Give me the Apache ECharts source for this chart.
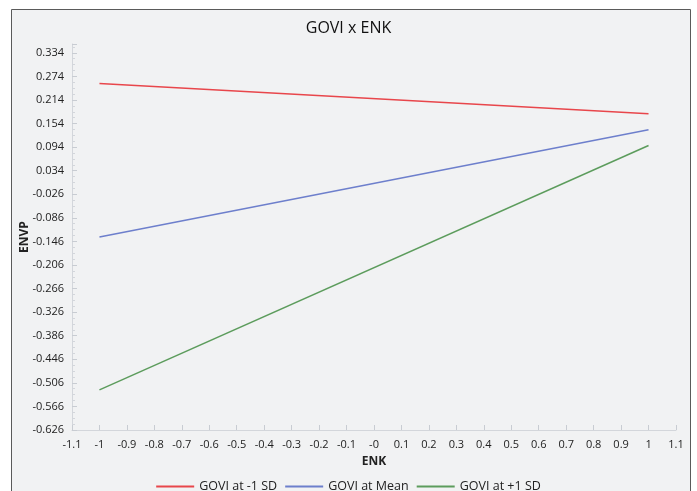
<!DOCTYPE html>
<html>
<head>
<meta charset="utf-8">
<script src="https://cdn.jsdelivr.net/npm/echarts@6/dist/echarts.min.js"></script>
<style>
  html, body { margin: 0; padding: 0; background: #fff; }
  #chart { width: 697px; height: 491px; }
</style>
</head>
<body>
<div id="chart"></div>
<script>
// ENK at the two ends
var enk = [-1, 1];
// predicted ENVP for each GOVI level
var lowSD = [0.256, 0.179];
var atMean = [-0.135, 0.138];
var highSD = [-0.524, 0.098];
var seriesNames = ['GOVI at -1 SD', 'GOVI at Mean', 'GOVI at +1 SD'];
var colors = ['#e8464b', '#6d7fcc', '#5c9c5c'];

function pairs(ys) {
  return enk.map(function (x, i) { return [x, ys[i]]; });
}

var chart = echarts.init(document.getElementById('chart'));
var font = '"Open Sans", "Noto Sans", sans-serif';

chart.setOption({
  animation: false,
  textStyle: { fontFamily: font },
  graphic: [{
    type: 'rect',
    z: -10,
    shape: { x: 11.5, y: 9.5, width: 679, height: 500 },
    style: { fill: '#f1f2f3', stroke: '#5a5a5a', lineWidth: 1 }
  }],
  title: {
    text: 'GOVI x ENK',
    left: 'center',
    top: 15,
    textStyle: { fontSize: 16, fontWeight: 'normal', color: '#111', fontFamily: font }
  },
  legend: {
    top: 475,
    left: 'center',
    itemWidth: 38,
    itemHeight: 2,
    itemGap: 8,
    icon: 'rect',
    textStyle: { fontSize: 12.5, color: '#222', fontFamily: font },
    data: seriesNames
  },
  grid: { left: 72, right: 21, top: 44, bottom: 61 },
  xAxis: {
    type: 'value',
    min: -1.1,
    max: 1.1,
    interval: 0.1,
    name: 'ENK',
    nameLocation: 'middle',
    nameGap: 26,
    nameTextStyle: { fontSize: 12, fontWeight: 'bold', color: '#222' },
    axisLine: { onZero: false, lineStyle: { color: '#d3d6db' } },
    axisTick: { inside: true, length: 5, lineStyle: { color: '#c8ccd2' } },
    axisLabel: {
      color: '#222', fontSize: 11, margin: 9,
      formatter: function (v) {
        var r = Math.round(v * 10) / 10;
        return Math.abs(r) < 1e-9 ? '-0' : String(r);
      }
    },
    splitLine: { show: false }
  },
  yAxis: {
    type: 'value',
    min: -0.626,
    max: 0.3565,
    interval: 0.06,
    name: 'ENVP',
    nameLocation: 'middle',
    nameGap: 41,
    nameMoveOverlap: false,
    nameRotate: 90,
    nameTextStyle: { fontSize: 12, fontWeight: 'bold', color: '#222' },
    axisLine: { show: true, onZero: false, lineStyle: { color: '#d3d6db' } },
    axisTick: { show: true, inside: true, length: 5, lineStyle: { color: '#c8ccd2' } },
    minorTick: { show: true, splitNumber: 4, length: 3, lineStyle: { color: '#d3d6db' } },
    axisLabel: {
      color: '#222', fontSize: 11, margin: 8, showMaxLabel: false,
      formatter: function (v) { return v.toFixed(3); }
    },
    splitLine: { show: false }
  },
  series: [
    { name: seriesNames[0], type: 'line', data: pairs(lowSD), symbol: 'none', lineStyle: { width: 1.5, color: colors[0] }, itemStyle: { color: colors[0] } },
    { name: seriesNames[1], type: 'line', data: pairs(atMean), symbol: 'none', lineStyle: { width: 1.5, color: colors[1] }, itemStyle: { color: colors[1] } },
    { name: seriesNames[2], type: 'line', data: pairs(highSD), symbol: 'none', lineStyle: { width: 1.5, color: colors[2] }, itemStyle: { color: colors[2] } }
  ]
});
</script>
</body>
</html>
